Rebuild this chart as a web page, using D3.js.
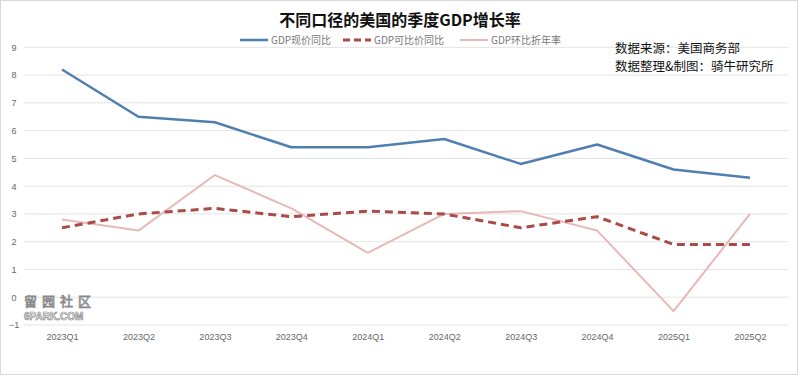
<!DOCTYPE html>
<html><head><meta charset="utf-8">
<script src="https://cdn.jsdelivr.net/npm/d3@7"></script>
<style>body{margin:0;background:#fff;}svg{display:block;font-family:"Noto Sans CJK SC","Noto Sans",sans-serif;}</style>
</head><body>
<svg id="c" width="800" height="376"></svg>
<script>
const categories = ["2023Q1","2023Q2","2023Q3","2023Q4","2024Q1","2024Q2","2024Q3","2024Q4","2025Q1","2025Q2"];
const nominalYoY = [8.2, 6.5, 6.3, 5.4, 5.4, 5.7, 4.8, 5.5, 4.6, 4.3];
const realYoY = [2.5, 3.0, 3.2, 2.9, 3.1, 3.0, 2.5, 2.9, 1.9, 1.9];
const qoqAnnualized = [2.8, 2.4, 4.4, 3.2, 1.6, 3.0, 3.1, 2.4, -0.5, 3.0];
const yTicks = [-1,0,1,2,3,4,5,6,7,8,9];
const seriesNames = ["GDP现价同比","GDP可比价同比","GDP环比折年率"];
const title = "不同口径的美国的季度GDP增长率";
const notes = ["数据来源：美国商务部","数据整理&制图：骑牛研究所"];

const svg = d3.select("#c");
svg.append("rect").attr("x",0.5).attr("y",0.5).attr("width",797).attr("height",374)
  .attr("fill","#fff").attr("stroke","#d9d9d9");

const x = d3.scalePoint().domain(categories).range([62,750]);
const y = d3.scaleLinear().domain([-1,9]).range([325,47.3]);

const grid = svg.append("g");
grid.selectAll("line").data(yTicks).join("line")
  .attr("x1",24).attr("x2",788).attr("y1",d=>y(d)).attr("y2",d=>y(d))
  .attr("stroke","#e3e3e3").attr("stroke-width",1);

const yAxis = d3.axisLeft(y).tickValues(yTicks).tickSize(0).tickPadding(0);
const gy = svg.append("g").attr("transform","translate(14,0)").call(yAxis);
gy.select(".domain").remove();
gy.selectAll("text").attr("fill","#666").attr("font-size",9).attr("text-anchor","middle").attr("font-family","Liberation Sans, sans-serif");

const xAxis = d3.axisBottom(x).tickSize(0).tickPadding(0);
const gx = svg.append("g").attr("transform","translate(0,334)").call(xAxis);
gx.select(".domain").remove();
gx.selectAll("text").attr("fill","#666").attr("font-size",9).attr("font-family","Liberation Sans, sans-serif");

const line = d3.line().x((d,i)=>x(categories[i])).y(d=>y(d));
const styles = [
  {data:qoqAnnualized, color:"#e6b9b8", w:2, dash:null},
  {data:realYoY, color:"#a94b47", w:3, dash:"8,5"},
  {data:nominalYoY, color:"#4f7fb0", w:2.5, dash:null}
];
styles.forEach(s=>{
  svg.append("path").datum(s.data).attr("d",line).attr("fill","none")
    .attr("stroke",s.color).attr("stroke-width",s.w)
    .attr("stroke-dasharray",s.dash).attr("stroke-linejoin","round");
});

svg.append("text").attr("x",400).attr("y",26).attr("text-anchor","middle")
  .attr("font-size",16).attr("font-weight","bold").attr("fill","#111").text(title);

const leg = [
  {x:240, name:seriesNames[0], color:"#4f7fb0", w:2.5, dash:null},
  {x:343, name:seriesNames[1], color:"#a94b47", w:3, dash:"7,4"},
  {x:460, name:seriesNames[2], color:"#e6b9b8", w:2, dash:null}
];
leg.forEach(l=>{
  svg.append("line").attr("x1",l.x).attr("x2",l.x+28).attr("y1",40).attr("y2",40)
    .attr("stroke",l.color).attr("stroke-width",l.w).attr("stroke-dasharray",l.dash);
  svg.append("text").attr("x",l.x+31).attr("y",44).attr("font-size",10).attr("fill","#777").text(l.name);
});

notes.forEach((t,i)=>{
  svg.append("text").attr("x",615).attr("y",53+i*18).attr("font-size",12.5).attr("fill","#111").text(t);
});

svg.append("text").attr("x",24).attr("y",306).attr("font-size",13).attr("letter-spacing",5)
  .attr("fill","#fff").attr("stroke","#888").attr("stroke-width",0.8).text("留园社区");
svg.append("text").attr("x",24).attr("y",320).attr("font-size",10).attr("font-weight","bold")
  .attr("fill","#fff").attr("stroke","#888").attr("stroke-width",0.7).attr("font-family","Liberation Sans, sans-serif").text("6PARK.COM");
</script>
</body></html>
